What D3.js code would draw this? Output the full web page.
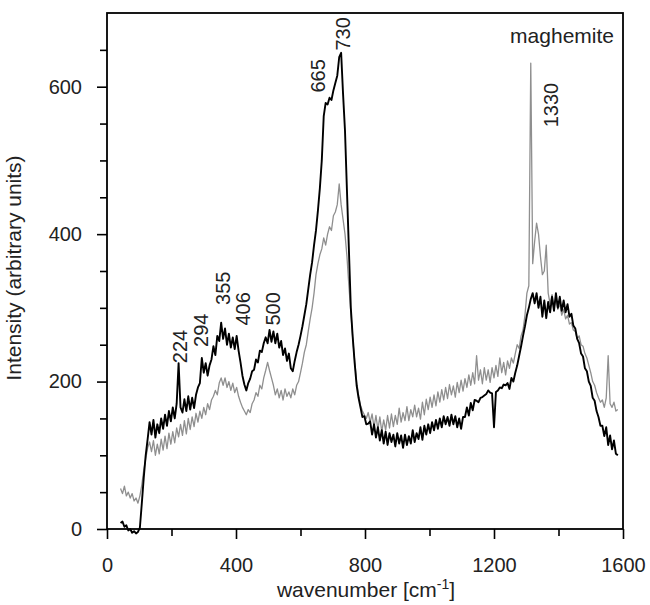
<!DOCTYPE html>
<html>
<head>
<meta charset="utf-8">
<script src="https://cdn.jsdelivr.net/npm/d3@7"></script>
<style>
	body { margin: 0; background: #fff; }
	svg { font-family: 'Liberation Sans', Arial, sans-serif; }
	.raman-axis path { display: none; }
	.raman-axis line { stroke: #000; stroke-width: 1.6; }
	.raman-axis text { font-size: 20px; fill: #222; }
</style>
</head>
<body>
<svg id="chart" width="650" height="605"></svg>
<script>

// spectrum sampled every 6 cm-1 starting at 42 cm-1
var nWaveStart = 42;
var nWaveStep = 6;

// black spectrum, rows of 10 samples
var aSpectrumBlack = [
	8,10,3,5,-2,0,-5,-3,-6,-4,                       // 42
	2,35,70,100,122,145,128,148,124,142,             // 102
	130,150,136,155,140,160,146,165,150,170,         // 162
	225,165,158,176,160,180,162,178,164,182,         // 222
	192,198,232,212,225,208,222,230,248,236,         // 282
	262,255,280,258,272,250,265,246,260,244,         // 342
	262,242,226,208,196,188,198,204,214,216,         // 402
	230,226,242,240,252,260,252,270,254,268,         // 462
	252,265,246,255,236,245,228,238,218,214,         // 522
	228,240,250,262,275,290,305,325,345,362,         // 582
	385,405,432,462,500,560,578,576,585,582,         // 642
	595,605,615,640,646,590,540,460,380,300,         // 702
	260,225,195,178,165,152,153,142,143,146,         // 762
	128,142,124,138,120,134,116,132,114,130,         // 822
	118,128,112,130,116,127,110,128,114,126,         // 882
	116,134,118,130,122,138,121,140,128,142,         // 942
	130,145,134,148,136,150,138,153,142,152,         // 1002
	140,155,142,153,138,150,136,152,152,165,         // 1062
	154,171,161,175,174,172,178,179,181,183,         // 1122
	188,185,184,138,186,188,192,191,196,195,         // 1182
	198,190,205,200,212,222,235,248,262,275,         // 1242
	290,300,312,320,306,320,300,315,288,310,         // 1302
	286,308,294,315,296,320,300,315,296,310,         // 1362
	294,305,288,292,276,272,258,252,238,234,         // 1422
	218,214,200,194,178,174,160,152,140,140,         // 1482
	126,138,114,127,108,120,102,100                  // 1542
];

// grey spectrum (maghemite), same sampling
var aSpectrumGrey = [
	55,48,58,45,50,42,48,38,42,35,                   // 42
	45,60,80,95,110,118,105,120,100,115,             // 102
	102,122,107,126,109,130,115,132,117,137,         // 162
	125,142,127,147,129,150,135,152,139,157,         // 222
	145,160,150,165,155,170,162,175,180,188,         // 282
	182,198,205,195,205,192,200,188,198,185,         // 342
	192,180,172,165,160,155,162,158,170,175,         // 402
	185,180,195,190,205,215,226,215,205,195,         // 462
	182,190,178,188,175,190,180,186,178,190,         // 522
	182,195,200,212,225,240,250,268,285,300,         // 582
	320,345,360,372,380,395,385,400,410,405,         // 642
	425,430,440,468,440,420,400,370,330,295,         // 702
	258,228,200,182,168,160,155,150,158,145,         // 762
	156,138,154,135,152,132,148,134,154,137,         // 822
	156,139,154,142,164,145,158,147,166,147,         // 882
	162,152,168,152,164,149,172,155,176,162,         // 942
	179,165,182,167,186,172,189,175,192,177,         // 1002
	196,182,194,179,199,185,202,187,204,192,         // 1062
	209,195,212,197,235,202,216,197,219,202,         // 1122
	216,199,219,205,222,207,232,212,226,209,         // 1182
	228,218,232,225,238,250,245,262,270,290,         // 1242
	320,330,632,360,390,415,400,370,345,350,         // 1302
	385,320,305,318,300,312,298,306,290,298,         // 1362
	285,290,278,280,270,268,258,262,250,248,         // 1422
	238,232,222,212,200,195,185,178,172,175,         // 1482
	165,178,235,170,165,172,160,162                  // 1542
];

// peak labels: text, anchor wavenumber, intensity where the text starts
var aPeakLabels = ['224','294','355','406','500','665','730','1330'];
var aPeakLabelWave = [226, 290, 360, 421, 515, 654, 732, 1377];
var aPeakLabelLevel = [225, 247, 304, 276, 276, 592, 649, 545];

var aTicksX = [0, 400, 800, 1200, 1600];
var aMinorTicksX = [200, 600, 1000, 1400];
var aTicksY = [0, 200, 400, 600];
var aMinorTicksY = [50, 100, 150, 250, 300, 350, 450, 500, 550, 650];

function D3_RamanChart(vSelector)
{
	var sSvg = d3.select(vSelector);
	if (sSvg.empty() == true)
	{
		console.log('D3_RamanChart: Could not identify element based on selector: '+vSelector);
		return;
	}

	const strCssClassPrefix = 'raman-';

	var nBorderTop = 13;
	var nBorderLeft = 107;
	var nChartWidth = 516;
	var nChartHeight = 516;

	var scaleX = d3.scaleLinear()
		.domain([0, 1600])
		.range([0, nChartWidth]);

	var scaleY = d3.scaleLinear()
		.domain([0, 700])
		.range([nChartHeight, 0]);

	var sChart = sSvg.append('g')
		.attr('transform', 'translate(' + nBorderLeft + ',' + nBorderTop + ')');

	// minor ticks first, major on top
	sChart.append('g')
		.attr('class', strCssClassPrefix+'axis')
		.attr('transform', 'translate(0,' + nChartHeight + ')')
		.call(d3.axisBottom(scaleX).tickValues(aMinorTicksX).tickSize(7).tickSizeOuter(0).tickFormat(''));

	sChart.append('g')
		.attr('class', strCssClassPrefix+'axis')
		.attr('transform', 'translate(0,' + nChartHeight + ')')
		.call(d3.axisBottom(scaleX).tickValues(aTicksX).tickSize(10).tickSizeOuter(0).tickPadding(19)
			.tickFormat(d3.format('d')));

	sChart.append('g')
		.attr('class', strCssClassPrefix+'axis')
		.call(d3.axisLeft(scaleY).tickValues(aMinorTicksY).tickSize(7).tickSizeOuter(0).tickFormat(''));

	sChart.append('g')
		.attr('class', strCssClassPrefix+'axis')
		.call(d3.axisLeft(scaleY).tickValues(aTicksY).tickSize(10).tickSizeOuter(0).tickPadding(15)
			.tickFormat(d3.format('d')));

	var lineSpectrum = d3.line()
		.x(function(fValue, i)
			{
				return scaleX(nWaveStart + i*nWaveStep);
			})
		.y(function(fValue)
			{
				return scaleY(fValue);
			});

	sChart.append('path')
		.datum(aSpectrumGrey)
		.attr('fill', 'none')
		.attr('stroke', '#8f8f8f')
		.attr('stroke-width', 1.3)
		.attr('stroke-linejoin', 'round')
		.attr('d', lineSpectrum);

	sChart.append('path')
		.datum(aSpectrumBlack)
		.attr('fill', 'none')
		.attr('stroke', '#000')
		.attr('stroke-width', 1.9)
		.attr('stroke-linejoin', 'round')
		.attr('d', lineSpectrum);

	// frame
	sChart.append('rect')
		.attr('x', 0)
		.attr('y', 0)
		.attr('width', nChartWidth)
		.attr('height', nChartHeight)
		.attr('fill', 'none')
		.attr('stroke', '#000')
		.attr('stroke-width', 1.8);

	sChart.selectAll('.'+strCssClassPrefix+'peak')
		.data(aPeakLabels)
		.enter()
			.append('text')
				.attr('class', strCssClassPrefix+'peak')
				.attr('transform', function(strLabel, i)
					{
						var nX = scaleX(aPeakLabelWave[i]) + 7;
						var nY = scaleY(aPeakLabelLevel[i]);
						return 'translate(' + nX + ',' + nY + ') rotate(-90)';
					})
				.style('font-size', '20px')
				.style('fill', '#222')
				.text(function(strLabel)
					{
						return strLabel;
					});

	sChart.append('text')
		.attr('x', nChartWidth - 9)
		.attr('y', 30)
		.style('text-anchor', 'end')
		.style('font-size', '21px')
		.style('fill', '#222')
		.text('maghemite');

	sSvg.append('text')
		.attr('transform', 'translate(21,' + (nBorderTop + nChartHeight/2 - 3) + ') rotate(-90)')
		.style('text-anchor', 'middle')
		.style('font-size', '21px')
		.style('fill', '#222')
		.text('Intensity (arbitrary units)');

	var sTitleX = sSvg.append('text')
		.attr('x', nBorderLeft + nChartWidth/2 + 1)
		.attr('y', 597)
		.style('text-anchor', 'middle')
		.style('font-size', '21px')
		.style('fill', '#222');
	sTitleX.append('tspan').text('wavenumber [cm');
	sTitleX.append('tspan').attr('dy', -8).style('font-size', '14px').text('-1');
	sTitleX.append('tspan').attr('dy', 8).text(']');
}

D3_RamanChart('#chart');

</script>
</body>
</html>
